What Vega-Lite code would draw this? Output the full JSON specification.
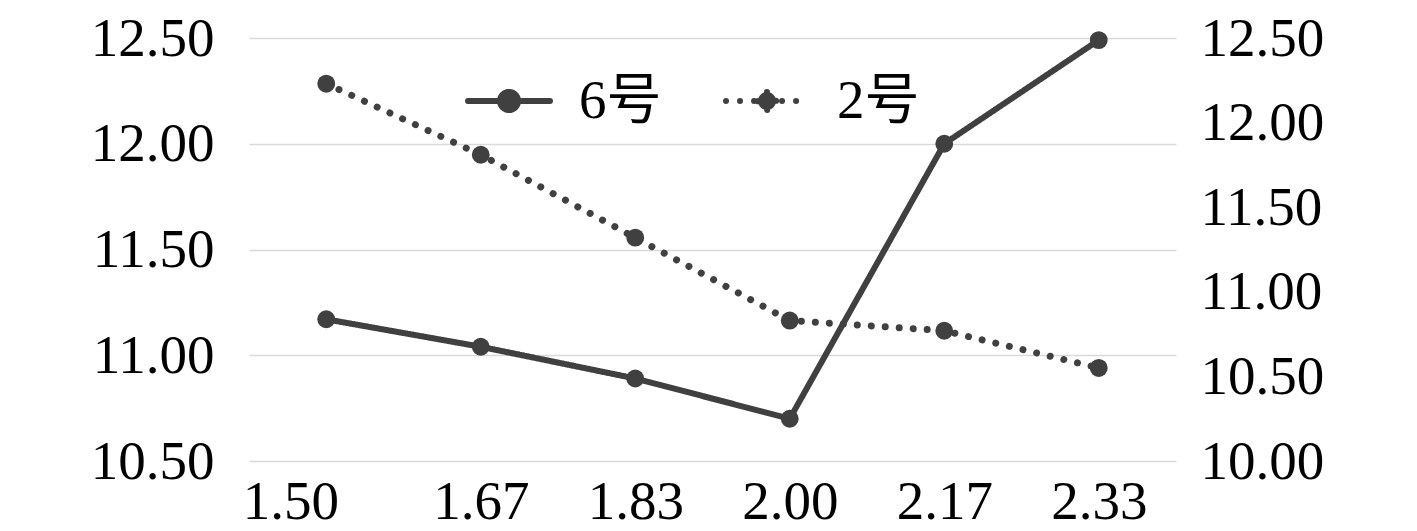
{
  "$schema": "https://vega.github.io/schema/vega-lite/v6.json",
  "width": 927,
  "height": 423,
  "autosize": {"type": "none"},
  "padding": {"left": 249, "top": 38, "right": 241, "bottom": 70},
  "background": "white",
  "config": {
    "view": {"stroke": null},
    "font": "Liberation Serif, Noto Sans CJK SC",
    "axis": {"labelFont": "Liberation Serif", "labelFontSize": 55, "labelColor": "#000000", "domain": false, "ticks": false, "title": null}
  },
  "data": {
    "values": [
      {"x": "1.50", "series": "6号", "v": 11.17},
      {"x": "1.67", "series": "6号", "v": 11.04},
      {"x": "1.83", "series": "6号", "v": 10.89},
      {"x": "2.00", "series": "6号", "v": 10.70},
      {"x": "2.17", "series": "6号", "v": 12.00},
      {"x": "2.33", "series": "6号", "v": 12.49},
      {"x": "1.50", "series": "2号", "v": 12.23},
      {"x": "1.67", "series": "2号", "v": 11.81},
      {"x": "1.83", "series": "2号", "v": 11.32},
      {"x": "2.00", "series": "2号", "v": 10.83},
      {"x": "2.17", "series": "2号", "v": 10.77},
      {"x": "2.33", "series": "2号", "v": 10.55}
    ]
  },
  "encoding": {
    "x": {
      "field": "x", "type": "ordinal",
      "scale": {"type": "point", "padding": 0.5},
      "axis": {
        "labelAngle": 0, "labelPadding": 14, "grid": false,
        "labelOffset": {"condition": {"test": "datum.value === '1.50'", "value": -36}, "value": 0}
      }
    }
  },
  "layer": [
    {
      "transform": [{"filter": "datum.series === '6号'"}],
      "encoding": {
        "y": {
          "field": "v", "type": "quantitative",
          "scale": {"domain": [10.5, 12.5], "zero": false, "nice": false},
          "axis": {"orient": "left", "values": [10.5, 11, 11.5, 12, 12.5], "format": ".2f", "grid": true, "gridColor": "#d9d9d9", "gridWidth": 1.5, "labelPadding": 35}
        }
      },
      "layer": [
        {
          "mark": {"type": "line", "color": "#404040", "strokeWidth": 6, "strokeCap": "round"},
          "encoding": {
            "strokeDash": {
              "field": "series", "type": "nominal",
              "scale": {"domain": ["6号", "2号"], "range": [[1, 0], [0.01, 14]]},
              "legend": {
                "orient": "none", "legendX": 216, "legendY": 19, "direction": "horizontal", "title": null,
                "symbolType": "M-1,0L1,0M-0.22,0A0.22,0.22 0 1 1 0.22,0A0.22,0.22 0 1 1 -0.22,0Z",
                "symbolSize": 6724, "symbolStrokeWidth": 6, "symbolStrokeColor": "#404040", "symbolFillColor": "#404040",
                "labelFont": "Liberation Serif, Noto Sans CJK SC", "labelFontSize": 55, "labelColor": "#000000",
                "labelOffset": 26, "columnPadding": 52,
                "symbolLimit": 0,
                "encode": {"symbols": {"update": {
                  "strokeCap": {"value": "round"},
                  "fill": {"value": "#404040"},
                  "fillOpacity": {"value": 1},
                  "stroke": {"value": "#404040"},
                  "strokeWidth": {"value": 6},
                  "strokeOpacity": {"value": 1},
                  "strokeDash": {"scale": "strokeDash", "field": "value"}
                }}}
              }
            }
          }
        },
        {"mark": {"type": "point", "filled": true, "size": 320, "color": "#404040", "opacity": 1}}
      ]
    },
    {
      "transform": [{"filter": "datum.series === '2号'"}],
      "encoding": {
        "y": {
          "field": "v", "type": "quantitative",
          "scale": {"domain": [10, 12.5], "zero": false, "nice": false},
          "axis": {"orient": "right", "values": [10, 10.5, 11, 11.5, 12, 12.5], "format": ".2f", "grid": false, "labelPadding": 24}
        }
      },
      "layer": [
        {
          "mark": {"type": "line", "color": "#404040", "strokeWidth": 7, "strokeCap": "round"},
          "encoding": {
            "strokeDash": {"field": "series", "type": "nominal"}
          }
        },
        {"mark": {"type": "point", "filled": true, "size": 320, "color": "#404040", "opacity": 1}}
      ]
    }
  ],
  "resolve": {"scale": {"y": "independent"}}
}
